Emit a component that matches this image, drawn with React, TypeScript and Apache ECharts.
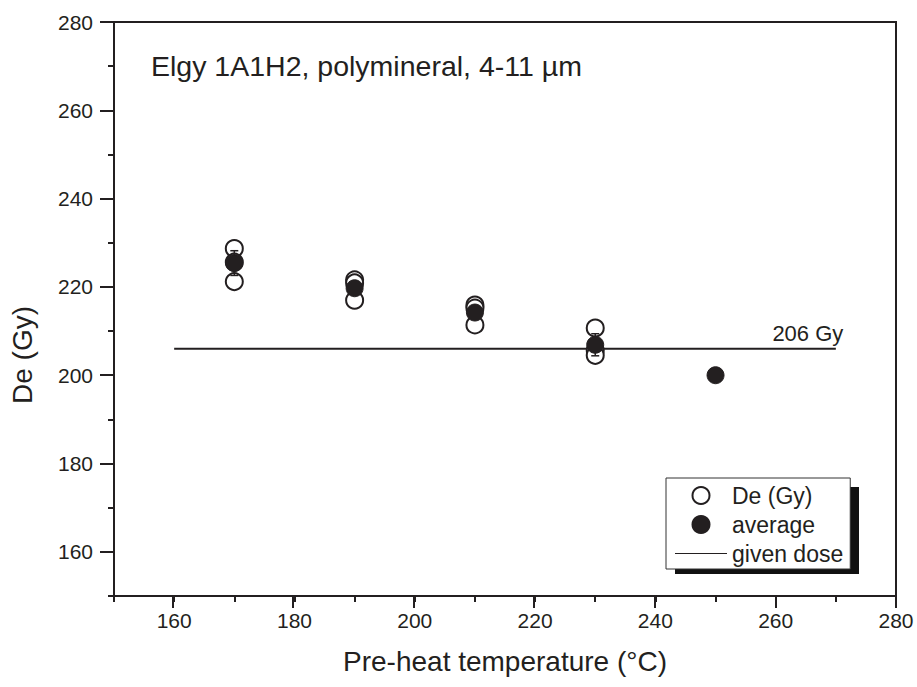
import React, { useEffect, useRef } from "react";
import * as echarts from "echarts";

// Pre-heat plateau test: individual De values, their average and the given dose
const preheatTemps = [170, 190, 210, 230, 250];
const deAliquotA = [228.7, 221.6, 215.9, 210.7];
const deAliquotB = [225.6, 220.9, 215.2, 205.6];
const deAliquotC = [221.2, 217.0, 211.4, 204.5];
const averageDe = [225.4, 219.7, 214.2, 206.9, 200.0];
const averageErr = [2.8, 1.5, 1.2, 2.5, 0];
const givenDose = 206;
const doseLineTemps = [160, 270];
const xMajorTicks = [160, 180, 200, 220, 240, 260, 280];
const yMajorTicks = [160, 180, 200, 220, 240, 260, 280];

const FONT = "'Liberation Sans', Arial, Helvetica, sans-serif";
const INK = "#231f20";

export default function App() {
  const ref = useRef<HTMLDivElement>(null);

  useEffect(() => {
    if (!ref.current) return;
    const chart = echarts.init(ref.current, undefined, { renderer: "svg" });

    const openPoints: number[][] = [];
    [deAliquotA, deAliquotB, deAliquotC].forEach((arr) =>
      arr.forEach((v, i) => openPoints.push([preheatTemps[i], v]))
    );
    const avgPoints = averageDe.map((v, i) => [preheatTemps[i], v]);
    const errPoints = averageDe.map((v, i) => [preheatTemps[i], v - averageErr[i], v + averageErr[i]]);
    const doseLine = doseLineTemps.map((t, i) =>
      i === doseLineTemps.length - 1
        ? {
            value: [t, givenDose],
            label: {
              show: true,
              position: "top",
              offset: [-28, 1],
              formatter: `${givenDose} Gy`,
              fontSize: 22,
              fontFamily: FONT,
              color: INK,
            },
          }
        : { value: [t, givenDose] }
    );

    const tickText = { fontSize: 21, fontFamily: FONT, color: INK };
    const axisLineStyle = { color: INK, width: 2 };
    const plotRect = { left: 112, right: 21, top: 22, bottom: 91 };

    // grid 0 carries the data, minor ticks and labels; grid 1 (same rect) only the long major ticks
    const mainX = {
      type: "value",
      gridIndex: 0,
      min: 150,
      max: 280,
      interval: 10,
      position: "bottom",
      axisLine: { show: true, onZero: false, lineStyle: axisLineStyle },
      axisTick: { show: true, inside: false, length: 6, lineStyle: axisLineStyle },
      axisLabel: {
        ...tickText,
        margin: 14,
        formatter: (v: number) => (v % 20 === 0 ? String(v) : ""),
      },
      splitLine: { show: false },
      name: "Pre-heat temperature (°C)",
      nameLocation: "middle",
      nameGap: 51,
      nameTextStyle: { fontSize: 28, fontFamily: FONT, color: INK },
    };
    const majorX = {
      type: "value",
      gridIndex: 1,
      min: 150,
      max: 280,
      position: "bottom",
      axisLine: { show: false, onZero: false },
      axisTick: { show: true, inside: false, length: 12, customValues: xMajorTicks, lineStyle: axisLineStyle },
      axisLabel: { show: false },
      splitLine: { show: false },
    };
    const mainY = {
      type: "value",
      gridIndex: 0,
      min: 150,
      max: 280,
      interval: 10,
      position: "left",
      axisLine: { show: true, onZero: false, lineStyle: axisLineStyle },
      axisTick: { show: true, inside: false, length: 6, lineStyle: axisLineStyle },
      axisLabel: {
        ...tickText,
        margin: 21,
        formatter: (v: number) => (v % 20 === 0 ? String(v) : ""),
      },
      splitLine: { show: false },
      name: "De (Gy)",
      nameLocation: "middle",
      nameGap: 78,
      nameTextStyle: { fontSize: 28, fontFamily: FONT, color: INK, padding: [0, 92, 0, 0] },
    };
    const majorY = {
      type: "value",
      gridIndex: 1,
      min: 150,
      max: 280,
      position: "left",
      axisLine: { show: false, onZero: false },
      axisTick: { show: true, inside: false, length: 12, customValues: yMajorTicks, lineStyle: axisLineStyle },
      axisLabel: { show: false },
      splitLine: { show: false },
    };

    chart.setOption({
      animation: false,
      backgroundColor: "#ffffff",
      textStyle: { fontFamily: FONT },
      grid: [
        { ...plotRect, show: true, borderColor: INK, borderWidth: 2, backgroundColor: "transparent" },
        { ...plotRect, show: false },
      ],
      title: {
        text: "Elgy 1A1H2, polymineral, 4-11 µm",
        left: 146,
        top: 46,
        textStyle: { fontSize: 28.5, fontWeight: "normal", fontFamily: FONT, color: INK },
      },
      legend: {
        orient: "vertical",
        left: 666,
        top: 478,
        padding: [6, 7, 4, 9],
        itemWidth: 52,
        itemHeight: 17,
        itemGap: 6,
        backgroundColor: "#ffffff",
        borderColor: "#333333",
        borderWidth: 1,
        textStyle: { fontSize: 23, lineHeight: 22, fontFamily: FONT, color: INK },
        data: [
          { name: "De (Gy)" },
          { name: "average" },
          { name: "given dose", icon: "path://M0,0L52,0L52,1.2L0,1.2Z", itemStyle: { color: INK } },
        ],
      },
      graphic: [
        {
          type: "rect",
          z: 1,
          shape: { x: 675, y: 487, width: 184, height: 87 },
          style: { fill: "#111111" },
        },
      ],
      xAxis: [mainX, majorX],
      yAxis: [mainY, majorY],
      series: [
        {
          name: "given dose",
          type: "line",
          data: doseLine,
          symbol: "circle",
          symbolSize: 0.1,
          showSymbol: true,
          lineStyle: { color: INK, width: 2 },
          itemStyle: { color: INK, opacity: 1 },
          z: 2,
        },
        {
          name: "De (Gy)",
          type: "scatter",
          data: openPoints,
          symbol: "circle",
          symbolSize: 17,
          itemStyle: { color: "#ffffff", borderColor: INK, borderWidth: 2, opacity: 1 },
          z: 3,
        },
        {
          name: "error",
          type: "custom",
          data: errPoints,
          z: 4,
          renderItem: (_params: any, api: any) => {
            const x = api.value(0);
            const lo = api.coord([x, api.value(1)]);
            const hi = api.coord([x, api.value(2)]);
            const cap = 4;
            const style = { stroke: INK, lineWidth: 1.5 };
            return {
              type: "group",
              children: [
                { type: "line", shape: { x1: lo[0], y1: lo[1], x2: hi[0], y2: hi[1] }, style },
                { type: "line", shape: { x1: lo[0] - cap, y1: lo[1], x2: lo[0] + cap, y2: lo[1] }, style },
                { type: "line", shape: { x1: hi[0] - cap, y1: hi[1], x2: hi[0] + cap, y2: hi[1] }, style },
              ],
            };
          },
        },
        {
          name: "average",
          type: "scatter",
          data: avgPoints,
          symbol: "circle",
          symbolSize: 17,
          itemStyle: { color: INK, borderColor: INK, borderWidth: 1, opacity: 1 },
          z: 5,
        },
      ],
    });

    return () => chart.dispose();
  }, []);

  return (
    <div
      ref={ref}
      style={{ position: "fixed", left: 0, top: 0, width: 917, height: 687, background: "#fff" }}
    />
  );
}
